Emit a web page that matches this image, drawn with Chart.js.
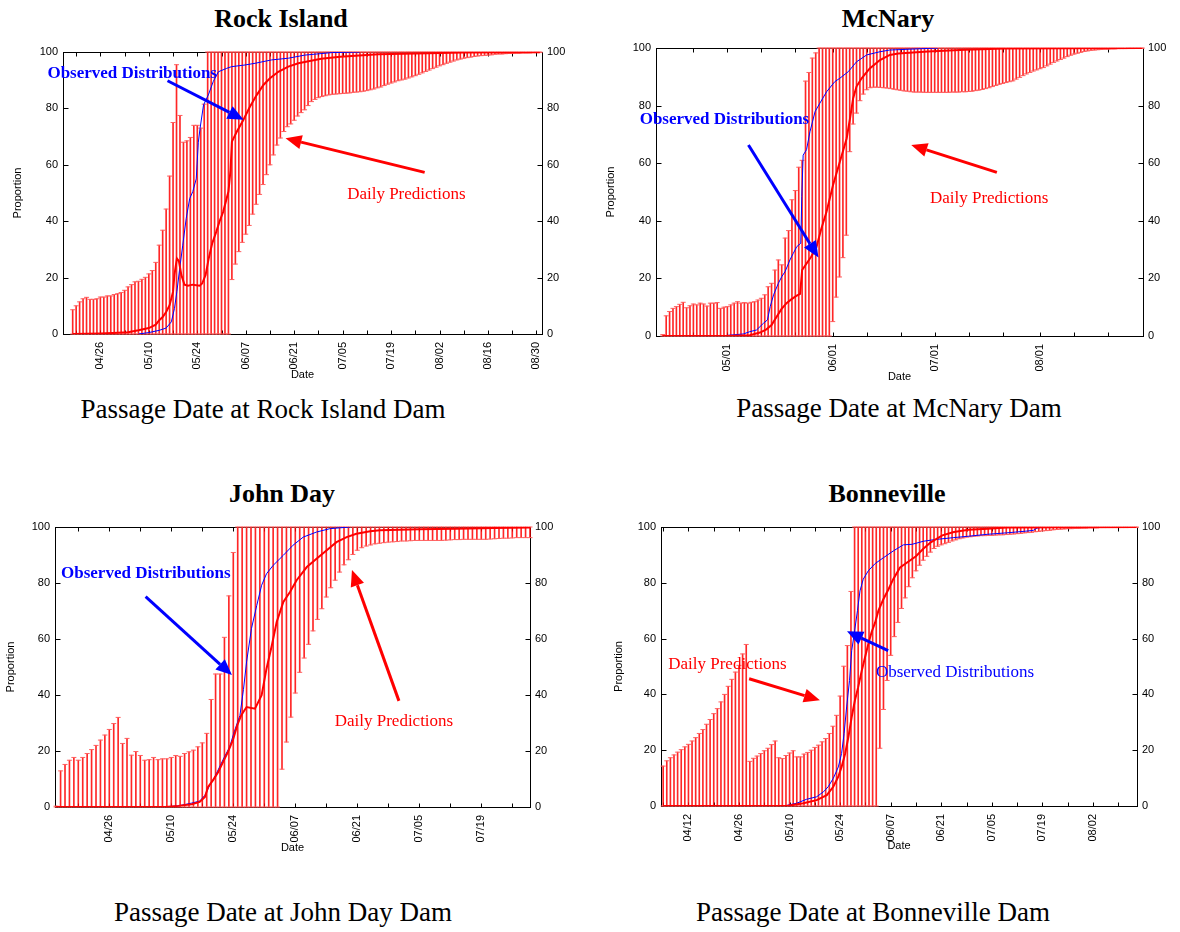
<!DOCTYPE html>
<html>
<head>
<meta charset="utf-8">
<script src="https://cdn.jsdelivr.net/npm/chart.js@4.4.1/dist/chart.umd.min.js"></script>
<style>
  body { margin: 0; background: #fff; width: 1180px; height: 932px; position: relative; overflow: hidden; }
  .box { position: absolute; }
  .ttl { position: absolute; width: 400px; text-align: center; font: bold 26px/26px "Liberation Serif", serif; color: #000; }
  .cap { position: absolute; width: 500px; text-align: center; font: 27px/27px "Liberation Serif", serif; color: #000; }
</style>
</head>
<body>
<div class="ttl" style="left:81px;top:6px">Rock Island</div>
<div class="ttl" style="left:688px;top:6px">McNary</div>
<div class="ttl" style="left:82px;top:481px">John Day</div>
<div class="ttl" style="left:687px;top:481px">Bonneville</div>
<div class="cap" style="left:13px;top:396px">Passage Date at Rock Island Dam</div>
<div class="cap" style="left:649px;top:395px">Passage Date at McNary Dam</div>
<div class="cap" style="left:33px;top:899px">Passage Date at John Day Dam</div>
<div class="cap" style="left:623px;top:899px">Passage Date at Bonneville Dam</div>

<script>
// x values are days counted from 04/01 (04/01 = 0)
const yTickValues = [0, 20, 40, 60, 80, 100];

// ---------- Rock Island ----------
const riFirstDay = 17;
const riHi = [
  8.6, 10, 11.4, 12.5, 13, 12.3, 12.3, 12.5, 13.1, 13.1,
  13.5, 13.5, 14, 14.3, 14.7, 15.5, 16.7, 17.5, 18.5, 18.7,
  19.4, 20.1, 21.3, 22.5, 25.4, 31.5, 36.8, 44.3, 56, 75,
  95.5, 77.5, 68, 68.5, 69.7, 74, 74, 73, 81.5,
  100, 100, 100, 100, 100, 100, 100, 100, 100, 100,
  100, 100, 100, 100, 100, 100, 100, 100, 100, 100,
  100, 100, 100, 100, 100, 100, 100, 100, 100, 100,
  100, 100, 100, 100, 100, 100, 100, 100, 100, 100,
  100, 100, 100, 100, 100, 100, 100, 100, 100, 100,
  100, 100, 100, 100, 100, 100, 100, 100, 100, 100,
  100, 100, 100, 100, 100, 100, 100, 100, 100, 100,
  100, 100, 100, 100, 100, 100, 100, 100, 100, 100,
  100, 100, 100, 100, 100, 100, 100, 100, 100, 100,
  100, 100, 100, 100, 100, 100, 100
];
const riLo = [
  0, 0, 0, 0, 0, 0, 0, 0, 0, 0,
  0, 0, 0, 0, 0, 0, 0, 0, 0, 0,
  0, 0, 0, 0, 0, 0, 0, 0, 0, 0,
  0, 0, 0, 0, 0, 0, 0, 0, 0, 0,
  0, 0, 0, 0, 0, 0,
  19.3, 24.8, 29.2, 32.5, 35.4, 38.5, 42.5, 46, 49.5, 53,
  56.5, 60, 63.5, 67, 69.5, 71.8, 73.5, 74.5, 75.8, 77.3,
  78.5, 79.5, 81, 82.4, 83.2, 83.8, 84.2, 84.5, 84.8, 85,
  85.1, 85.2, 85.3, 85.4, 85.5, 85.7, 85.8, 85.9, 86.1, 86.3,
  86.6, 86.9, 87.3, 87.6, 88.1, 88.6, 89, 89.4, 89.8, 90.1,
  90.4, 90.8, 91.2, 91.6, 92.1, 92.6, 93.1, 93.6, 94.1, 94.6,
  95.1, 95.5, 96, 96.4, 96.8, 97.2, 97.5, 97.8, 98, 98.2,
  98.4, 98.6, 98.7, 98.8, 98.9, 99, 99.2, 99.3, 99.3, 99.4,
  99.5, 99.5, 99.6, 99.6, 99.7, 99.7, 99.7, 99.8, 99.8, 99.8
];
const riPredDay = [17, 25, 30, 33, 36, 39, 41, 42, 43, 44, 45, 46, 46.4, 47.1, 47.7, 48.4, 49.3, 50.3, 51.7, 53.7,
  54.4, 55.4, 56.3, 57.3, 58.5, 59.4, 60.5, 62, 62.6, 63, 64.4, 66.3, 68.2, 70.2, 72.1, 74, 76.4, 79.3, 82.2, 85.5,
  88.8, 94.3, 99.8, 105.3, 116.3, 130, 152];
const riPred = [0, 0.2, 0.4, 0.6, 1.3, 2.1, 3.3, 4.9, 6, 7.8, 10.2, 15, 21, 26.8, 25.8, 20.9, 17.5, 17.1, 17.5, 17.1,
  17.9, 20.9, 26.8, 32.1, 36.3, 39.8, 43.4, 50.5, 58, 68.2, 71.7, 75.9, 80.6, 84.8, 88.3, 90.7, 93, 94.8, 96, 96.8,
  97.6, 98.3, 98.8, 99.2, 99.5, 99.8, 99.9];
const riObsDay = [36, 39, 42, 44, 45.5, 46.4, 47.1, 47.9, 48.8, 49.8, 50.8, 51.7, 52.7, 53.3, 53.8, 54.8, 56.2, 57.6,
  59.1, 61.5, 62.9, 66.8, 69.7, 74.5, 79.3, 84.1, 92, 100];
const riObs = [0, 0.5, 1.3, 2.1, 4.3, 9, 15, 23, 31.5, 41, 48, 50.5, 55, 68, 72.9, 81.2, 84.8, 89.5,
  93, 94.2, 94.8, 95.4, 96, 97.2, 97.8, 98.9, 99.8, 100];
const riTickDays = [25, 39, 53, 67, 81, 95, 109, 123, 137, 151];
const riTickLabels = ['04/26', '05/10', '05/24', '06/07', '06/21', '07/05', '07/19', '08/02', '08/16', '08/30'];
const riMinorDays = [18, 32, 46, 60, 74, 88, 102, 116, 130, 144];

// ---------- McNary ----------
const mcFirstDay = 11;
const mcHi = [
  0.5, 7, 8.5, 9.6, 10.2, 11, 11.7, 9.8, 10.5, 11.1,
  10.8, 11.4, 11.1, 10.4, 11.4, 11.4, 11.6, 9.6, 10, 10.2,
  10.8, 11.4, 11.9, 11.4, 11.6, 11.4, 11.7, 11.9, 12.5, 13.1,
  14.3, 17.1, 18.3, 22.9, 26.4, 24.7, 34, 36.6, 47.3, 50.5,
  58.6, 61, 88.5, 91.5, 96.5, 98.3,
  100, 100, 100, 100, 100, 100, 100, 100, 100, 100,
  100, 100, 100, 100, 100, 100, 100, 100, 100, 100,
  100, 100, 100, 100, 100, 100, 100, 100, 100, 100,
  100, 100, 100, 100, 100, 100, 100, 100, 100, 100,
  100, 100, 100, 100, 100, 100, 100, 100, 100, 100,
  100, 100, 100, 100, 100, 100, 100, 100, 100, 100,
  100, 100, 100, 100, 100, 100, 100, 100, 100, 100,
  100, 100, 100, 100, 100, 100, 100, 100, 100, 100,
  100, 100, 100, 100, 100, 100, 100, 100, 100, 100,
  100, 100, 100, 100, 100, 100
];
const mcLo = [
  0, 0, 0, 0, 0, 0, 0, 0, 0, 0,
  0, 0, 0, 0, 0, 0, 0, 0, 0, 0,
  0, 0, 0, 0, 0, 0, 0, 0, 0, 0,
  0, 0, 0, 0, 0, 0, 0, 0, 0, 0,
  0, 0, 0, 0, 0, 0, 0, 0, 0, 0,
  5, 13.5, 20.5, 27.2, 35, 64, 73.6, 77.4, 81.7, 84,
  85.5, 86.2, 86.4, 86.4, 86.3, 86.2, 86.1, 85.9, 85.7, 85.5,
  85.3, 85.1, 85, 84.8, 84.7, 84.7, 84.7, 84.6, 84.6, 84.6,
  84.6, 84.6, 84.6, 84.6, 84.6, 84.7, 84.7, 84.7, 84.8, 84.8,
  84.9, 85, 85.2, 85.4, 85.6, 85.9, 86.2, 86.6, 87, 87.4,
  87.7, 88, 88.3, 88.6, 89.2, 89.8, 90.4, 91, 91.5, 92,
  92.4, 92.8, 93.2, 93.8, 94.4, 95, 95.5, 96, 96.5, 97,
  97.5, 97.9, 98.2, 98.5, 98.8, 99, 99.2, 99.3, 99.4, 99.5,
  99.6, 99.6, 99.7, 99.7, 99.8, 99.8, 99.8, 99.9, 99.9, 99.9,
  99.9, 99.9
];
const mcPredDay = [11, 30, 36.6, 39.6, 41.5, 43, 44.5, 45.9, 47.4, 48.8, 50.3, 51.4, 52, 53.2, 54.7, 56.2, 57.6,
  59.2, 61.1, 63.1, 65.1, 66.1, 67, 68, 69.5, 71.9, 74.9, 77.8, 80.3, 89, 100, 112, 152];
const mcPred = [0, 0, 0.3, 1.2, 2.3, 3.8, 6.7, 9.3, 11.4, 12.7, 13.9, 14.6, 22.9, 25, 27.6, 30.8, 37.1,
  43.2, 52.4, 60.5, 68.6, 75.6, 82.5, 86.6, 89.5, 92.9, 95.8, 97.6, 98.1, 98.8, 99.4, 99.8, 100];
const mcObsDay = [27.8, 30.8, 34.7, 36.6, 38.6, 40.6, 41.8, 42.6, 43.6, 45, 46, 47, 48.4, 49.4, 50.4, 51.6,
  51.9, 52.3, 53.3, 54.3, 55.8, 57.2, 59.2, 61.6, 63.1, 65.6, 68, 71, 74.9, 77.8, 84, 92];
const mcObs = [0, 0.3, 0.7, 1.5, 2.1, 4.4, 5.6, 10.2, 14.3, 18.3, 20.6, 22.4, 26.4, 28.7, 31, 32.2,
  48.4, 62.8, 64.7, 70.9, 77.9, 80.8, 84.8, 88.3, 89.5, 91.8, 95.2, 97.6, 98.7, 99.3, 99.6, 100];
const mcTickDays = [30, 61, 91, 122];
const mcTickLabels = ['05/01', '06/01', '07/01', '08/01'];
const mcMinorDays = [20, 40, 50, 71, 81, 101, 111, 132, 142];

// ---------- John Day ----------
const jdFirstDay = 13;
const jdHi = [
  0.3, 12.9, 15.2, 16.7, 17.7, 16.7, 17.7, 19.1, 20.5, 22,
  23.9, 25.7, 27.7, 29.8, 32, 22.7, 24.5, 18.5, 19.8, 18.4,
  16.7, 16.9, 17.7, 16.9, 17.2, 17.2, 17.7, 18.4, 18.1, 19.1,
  19.7, 20.3, 21.5, 22.9, 26.3, 38.4, 47.5, 47.5, 60.6, 75.4,
  90.9,
  100, 100, 100, 100, 100, 100, 100, 100, 100, 100,
  100, 100, 100, 100, 100, 100, 100, 100, 100, 100,
  100, 100, 100, 100, 100, 100, 100, 100, 100, 100,
  100, 100, 100, 100, 100, 100, 100, 100, 100, 100,
  100, 100, 100, 100, 100, 100, 100, 100, 100, 100,
  100, 100, 100, 100, 100, 100, 100, 100, 100, 100,
  100, 100, 100, 100, 100, 100, 100
];
const jdLo = [
  0, 0, 0, 0, 0, 0, 0, 0, 0, 0,
  0, 0, 0, 0, 0, 0, 0, 0, 0, 0,
  0, 0, 0, 0, 0, 0, 0, 0, 0, 0,
  0, 0, 0, 0, 0, 0, 0, 0, 0, 0,
  0, 0, 0, 0, 0, 0, 0, 0, 0, 0,
  0,
  13.5, 23.2, 32.1, 40.7, 48.1, 53.2, 58.1, 62.9, 67, 70.8,
  75, 78.3, 81, 83.9, 86.5, 88.3, 90.2, 91.7, 92.6, 93.2,
  93.6, 94, 94.2, 94.4, 94.6, 94.7, 94.8, 95, 95, 95.1,
  95.2, 95.2, 95.2, 95.2, 95.2, 95.2, 95.2, 95.3, 95.4, 95.5,
  95.5, 95.6, 95.6, 95.6, 95.6, 95.6, 95.6, 95.7, 95.8, 95.9,
  96, 96, 96.1, 96.2, 96.2, 96.2, 96.2
];
const jdPredDay = [13, 37.6, 40.6, 43.6, 45.4, 46.6, 47.3, 48.4, 49.6, 50.7, 51.8, 52.9, 53.9, 54.8, 56, 57.9,
  59.4, 60.5, 61.7, 62.8, 64.3, 65.8, 67.3, 69.6, 71.8, 74.1, 76.3, 78.6, 80.8, 83.9, 86.1, 90.5, 94.8, 103.4, 112, 120];
const jdPred = [0, 0, 0.4, 1, 1.8, 3.6, 7.2, 9.5, 12.5, 16.1, 19.7, 23.9, 29.2, 32.8, 35.7, 35.1,
  39.9, 49.4, 57.7, 66.1, 73.2, 76.8, 81, 85.7, 88.7, 91.7, 94.6, 96.4, 97.6, 98.5, 98.8, 99, 99.2, 99.4, 99.6, 99.8];
const jdObsDay = [36.8, 40.6, 43.6, 45.4, 46.6, 47.7, 48.8, 49.9, 51, 52.2, 53.1, 54, 54.5, 55.3, 56, 57.1,
  58.3, 59.4, 60.5, 62, 64.3, 66.5, 68.8, 71.8, 74.8, 79.3];
const jdObs = [0, 0.4, 1.4, 2.1, 4.2, 7.8, 10.7, 14.3, 17.9, 21.5, 26.3, 30.5, 32.7, 42, 51.8, 63.7,
  72, 79.2, 83.3, 86.3, 89.9, 93.5, 96.4, 98.2, 99.4, 100];
const jdTickDays = [25, 39, 53, 67, 81, 95, 109];
const jdTickLabels = ['04/26', '05/10', '05/24', '06/07', '06/21', '07/05', '07/19'];
const jdMinorDays = [18, 32, 46, 60, 74, 88, 102, 116];

// ---------- Bonneville ----------
const bnFirstDay = 4;
const bnHi = [
  14.3, 16.2, 17.3, 18.3, 19.3, 20.2, 21.2, 22.1, 23.3, 24.5,
  26, 27.4, 29.3, 31, 33.1, 34.9, 37.3, 40, 42.9, 45.4,
  48, 50.4, 54.5, 57.9, 16, 17.1, 17.9, 18.8, 19.8, 20.7,
  22, 23.3, 17.3, 17, 18.1, 19, 19.8, 17.6, 17.6, 18.6,
  19.2, 20, 21, 21.8, 23, 24.2, 26, 28.6, 32.5, 39.4,
  50.1, 57.5, 76.9,
  100, 100, 100, 100, 100, 100, 100, 100, 100, 100,
  100, 100, 100, 100, 100, 100, 100, 100, 100, 100,
  100, 100, 100, 100, 100, 100, 100, 100, 100, 100,
  100, 100, 100, 100, 100, 100, 100, 100, 100, 100,
  100, 100, 100, 100, 100, 100, 100, 100, 100, 100,
  100, 100, 100, 100, 100, 100, 100, 100, 100, 100,
  100, 100, 100, 100, 100, 100, 100, 100, 100, 100,
  100, 100, 100, 100, 100, 100, 100, 100, 100
];
const bnLo = [
  0, 0, 0, 0, 0, 0, 0, 0, 0, 0,
  0, 0, 0, 0, 0, 0, 0, 0, 0, 0,
  0, 0, 0, 0, 0, 0, 0, 0, 0, 0,
  0, 0, 0, 0, 0, 0, 0, 0, 0, 0,
  0, 0, 0, 0, 0, 0, 0, 0, 0, 0,
  0, 0, 0, 0, 0, 0, 0, 0, 0, 0,
  20.7, 34.6, 45, 54, 60.7, 65.8, 70.8, 74.6, 78.6, 81.8,
  84.3, 86.3, 88.1, 89.5, 91, 92.3, 93.1, 93.6, 94, 94.5,
  95, 95.4, 95.8, 96.1, 96.4, 96.5, 96.7, 96.8, 96.9, 96.9,
  97, 97, 97.1, 97.2, 97.2, 97.3, 97.4, 97.5, 97.6, 97.7,
  97.9, 98, 98.1, 98.3, 98.4, 98.6, 98.7, 98.8, 99, 99.1,
  99.2, 99.3, 99.4, 99.4, 99.5, 99.5, 99.6, 99.6, 99.7, 99.7,
  99.7, 99.8, 99.8, 99.8, 99.8, 99.8, 99.8, 99.8, 99.8, 99.8,
  99.8, 99.8
];
const bnPredDay = [4, 38.2, 42.8, 46.5, 49.3, 51.1, 52.5, 53.4, 54.4, 55.3, 56.2, 57.1, 58, 59, 59.9, 60.8, 61.7,
  62.7, 63.6, 65, 66.4, 67.7, 69.6, 74, 76.1, 78.2, 81.3, 84.5, 88.6, 93.9, 99.1, 135];
const bnPred = [0, 0, 1, 2.1, 3.9, 6.9, 10.5, 14, 18.8, 24.8, 31.9, 37.9, 42.6, 48.6, 53.3, 58.1, 62.3,
  65.8, 70, 74.2, 77.7, 81.3, 85.5, 89.5, 92.3, 94.6, 97, 98.2, 99, 99.4, 99.8, 100];
const bnObsDay = [35.4, 38.2, 41, 43.7, 46.5, 48.4, 49.7, 51.1, 52.5, 53.4, 54.1, 54.8, 55.6, 56.2, 56.9, 57.8,
  58.5, 59.4, 60.8, 62.7, 65, 67.7, 70.5, 72.9, 76.1, 79.2, 84.5, 88.6, 93.9, 99.1, 104.4, 106.5, 107.5, 108.5];
const bnObs = [0, 0.2, 1, 2.4, 3.3, 5.1, 6.9, 9.9, 14, 18.8, 26, 35.5, 45, 55.7, 61.7, 70,
  77.1, 81.3, 84.3, 86.9, 89, 91.4, 93.6, 93.8, 94.9, 95.5, 96.2, 96.7, 97.4, 97.9, 98.5, 98.8, 99.6, 99.8];
const bnTickDays = [11, 25, 39, 53, 67, 81, 95, 109, 123];
const bnTickLabels = ['04/12', '04/26', '05/10', '05/24', '06/07', '06/21', '07/05', '07/19', '08/02'];
const bnMinorDays = [4, 18, 32, 46, 60, 74, 88, 102, 116, 130];

const RED = '#ff0000';
const BLUE = '#0000ff';

const panels = [
  {
    box: [0, 40, 590, 342], pad: 7, yW: 56, y2W: 48, xH: 48, xMin: 14.2, xMax: 152.6,
    first: riFirstDay, hi: riHi, lo: riLo, predDay: riPredDay, pred: riPred, obsDay: riObsDay, obs: riObs,
    ticks: riTickDays, labels: riTickLabels, minor: riMinorDays,
    notes: [
      { arrow: [44.4, 89.8, 66.4, 76], color: BLUE },
      { arrow: [118.7, 57.3, 78.5, 69.4], color: RED },
      { text: 'Observed Distributions', x: 9.7, y: 92.3, color: BLUE, bold: true },
      { text: 'Daily Predictions', x: 96.3, y: 49.6, color: RED }
    ]
  },
  {
    box: [590, 36, 590, 348], pad: 10, yW: 56, y2W: 37, xH: 48, xMin: 9.0, xMax: 152.3,
    first: mcFirstDay, hi: mcHi, lo: mcLo, predDay: mcPredDay, pred: mcPred, obsDay: mcObsDay, obs: mcObs,
    ticks: mcTickDays, labels: mcTickLabels, minor: mcMinorDays,
    notes: [
      { arrow: [36.2, 66.3, 56.8, 27.3], color: BLUE },
      { arrow: [109.3, 56.8, 84.1, 66.3], color: RED },
      { text: 'Observed Distributions', x: 4.2, y: 75.2, color: BLUE, bold: true },
      { text: 'Daily Predictions', x: 89.6, y: 47.7, color: RED }
    ]
  },
  {
    box: [0, 515, 590, 340], pad: 0, yW: 55, y2W: 60, xH: 48, xMin: 12.74, xMax: 120,
    first: jdFirstDay, hi: jdHi, lo: jdLo, predDay: jdPredDay, pred: jdPred, obsDay: jdObsDay, obs: jdObs,
    ticks: jdTickDays, labels: jdTickLabels, minor: jdMinorDays,
    notes: [
      { arrow: [33.2, 75.1, 52.7, 47.1], color: BLUE },
      { arrow: [90.4, 37.9, 79.8, 84.6], color: RED },
      { text: 'Observed Distributions', x: 14.1, y: 83.2, color: BLUE, bold: true },
      { text: 'Daily Predictions', x: 75.9, y: 30.4, color: RED }
    ]
  },
  {
    box: [590, 515, 590, 338], pad: 18, yW: 53, y2W: 43, xH: 47, xMin: 3.4, xMax: 135.2,
    first: bnFirstDay, hi: bnHi, lo: bnLo, predDay: bnPredDay, pred: bnPred, obsDay: bnObsDay, obs: bnObs,
    ticks: bnTickDays, labels: bnTickLabels, minor: bnMinorDays,
    notes: [
      { arrow: [27.8, 45.6, 47.4, 37.9], color: RED },
      { arrow: [66.3, 55.7, 54.9, 62.6], color: BLUE },
      { text: 'Daily Predictions', x: 5.4, y: 50.7, color: RED },
      { text: 'Observed Distributions', x: 62.9, y: 47.9, color: BLUE }
    ]
  }
];

Chart.defaults.color = '#000';
Chart.defaults.font.family = '"Liberation Sans", Arial, sans-serif';

const tickFont = { family: '"Liberation Sans", Arial, sans-serif', size: 11 };

// black frame and gnuplot-style inward ticks
function frameAndTicks(p) {
  return {
    id: 'frame',
    beforeDatasetsDraw(chart) {
      const { ctx, chartArea: a, scales: { x, y } } = chart;
      ctx.save();
      ctx.strokeStyle = '#000';
      ctx.lineWidth = 1;
      const l = Math.round(a.left) + 0.5, t = Math.round(a.top) + 0.5;
      const r = Math.round(a.right) + 0.5, b = Math.round(a.bottom) + 0.5;
      ctx.strokeRect(l, t, r - l, b - t);
      ctx.beginPath();
      p.ticks.concat(p.minor).forEach(d => {
        const px = Math.round(x.getPixelForValue(d)) + 0.5;
        ctx.moveTo(px, b); ctx.lineTo(px, b - 4);
        ctx.moveTo(px, t); ctx.lineTo(px, t + 4);
      });
      yTickValues.slice(1, -1).forEach(v => {
        const py = Math.round(y.getPixelForValue(v)) + 0.5;
        ctx.moveTo(l, py); ctx.lineTo(l + 5, py);
        ctx.moveTo(r, py); ctx.lineTo(r - 5, py);
      });
      ctx.stroke();
      ctx.restore();
    }
  };
}

// arrows and text labels, placed in data coordinates
function notesPlugin(p) {
  return {
    id: 'notes',
    afterDatasetsDraw(chart) {
      const { ctx, scales: { x, y } } = chart;
      ctx.save();
      p.notes.forEach(n => {
        if (n.arrow) {
          const [d1, v1, d2, v2] = n.arrow;
          const x1 = x.getPixelForValue(d1), y1 = y.getPixelForValue(v1);
          const x2 = x.getPixelForValue(d2), y2 = y.getPixelForValue(v2);
          const ang = Math.atan2(y2 - y1, x2 - x1);
          const len = 16, half = 7;
          const bx = x2 - len * Math.cos(ang), by = y2 - len * Math.sin(ang);
          ctx.strokeStyle = n.color;
          ctx.lineWidth = 3;
          ctx.beginPath(); ctx.moveTo(x1, y1); ctx.lineTo(bx, by); ctx.stroke();
          ctx.fillStyle = n.color;
          ctx.beginPath();
          ctx.moveTo(x2, y2);
          ctx.lineTo(bx + half * Math.sin(ang), by - half * Math.cos(ang));
          ctx.lineTo(bx - half * Math.sin(ang), by + half * Math.cos(ang));
          ctx.closePath();
          ctx.fill();
        } else {
          ctx.font = (n.bold ? 'bold ' : '') + '17px "Liberation Serif", serif';
          ctx.fillStyle = n.color;
          ctx.textAlign = 'left';
          ctx.textBaseline = 'middle';
          ctx.fillText(n.text, x.getPixelForValue(n.x), y.getPixelForValue(n.y));
        }
      });
      ctx.restore();
    }
  };
}

const makePanel = (p) => {
  const [left, top, w, h] = p.box;
  const holder = document.createElement('div');
  holder.className = 'box';
  holder.style.left = left + 'px';
  holder.style.top = top + 'px';
  const canvas = document.createElement('canvas');
  canvas.width = w;
  canvas.height = h;
  holder.appendChild(canvas);
  document.body.appendChild(holder);

  if (p.hi.length !== p.lo.length) console.error('hi/lo length mismatch', p.hi.length, p.lo.length);

  const bars = p.hi.map((v, i) => ({ x: p.first + i, y: [p.lo[i], v] }));
  const hiCaps = p.hi.map((v, i) => ({ x: p.first + i, y: v }));
  const loCaps = p.lo.map((v, i) => ({ x: p.first + i, y: v }));
  const predLine = p.predDay.map((d, i) => ({ x: d, y: p.pred[i] }));
  const obsLine = p.obsDay.map((d, i) => ({ x: d, y: p.obs[i] }));

  const capStyle = {
    type: 'line', showLine: false, pointStyle: 'line', pointRadius: 2.5,
    pointBorderColor: '#ff6060', pointBorderWidth: 1, clip: false, order: 3
  };

  const yAxis = (position, width, withTitle) => ({
    type: 'linear', position, min: 0, max: 100,
    afterBuildTicks: s => { s.ticks = yTickValues.map(v => ({ value: v })); },
    ticks: { padding: 5, font: tickFont, color: '#000' },
    grid: { display: false, drawTicks: false },
    border: { display: false },
    title: { display: withTitle, text: 'Proportion', font: tickFont, color: '#000', padding: { top: 4, bottom: 0 } },
    afterFit: s => { s.width = width; }
  });

  new Chart(canvas, {
    type: 'line',
    data: {
      datasets: [
        { type: 'line', data: predLine, borderColor: RED, borderWidth: 2, pointRadius: 0, tension: 0, order: 0 },
        { type: 'line', data: obsLine, borderColor: BLUE, borderWidth: 1, pointRadius: 0, tension: 0, order: 1 },
        Object.assign({ data: hiCaps }, capStyle),
        Object.assign({ data: loCaps }, capStyle),
        { type: 'bar', data: bars, backgroundColor: 'rgba(255,0,0,0.85)', borderWidth: 0, barThickness: 1, clip: false, order: 4 }
      ]
    },
    options: {
      responsive: false,
      animation: false,
      events: [],
      devicePixelRatio: 1,
      layout: { padding: { left: p.pad, top: 12, right: 0, bottom: 0 } },
      plugins: { legend: { display: false }, tooltip: { enabled: false } },
      scales: {
        x: {
          type: 'linear', min: p.xMin, max: p.xMax, offset: false,
          afterBuildTicks: s => { s.ticks = p.ticks.map(v => ({ value: v })); },
          ticks: {
            autoSkip: false, maxRotation: 90, minRotation: 90, padding: 8, font: tickFont, color: '#000',
            callback: v => p.labels[p.ticks.indexOf(v)]
          },
          grid: { display: false, drawTicks: false },
          border: { display: false },
          title: { display: true, text: 'Date', font: tickFont, color: '#000', padding: { top: 0, bottom: 0 } },
          afterFit: s => { s.height = p.xH; }
        },
        y: yAxis('left', p.yW, true),
        y2: yAxis('right', p.y2W, false)
      }
    },
    plugins: [frameAndTicks(p), notesPlugin(p)]
  });
};

panels.forEach(makePanel);
</script>
</body>
</html>
